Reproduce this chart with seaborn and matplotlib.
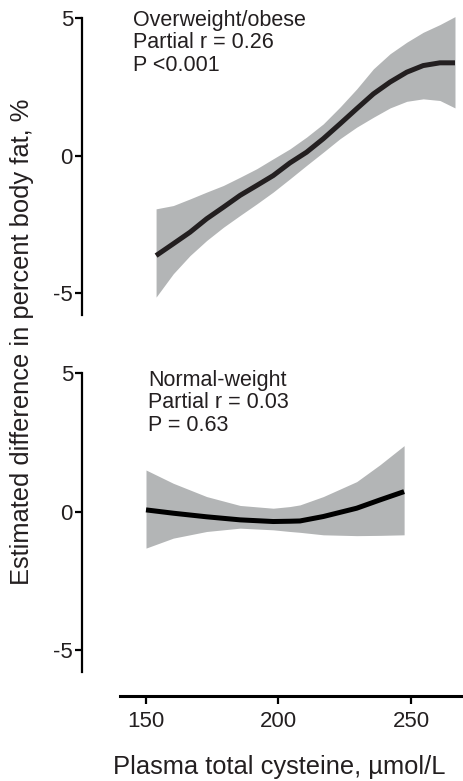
import numpy as np
import pandas as pd
import matplotlib
matplotlib.use("Agg")
import matplotlib.pyplot as plt
import seaborn as sns

# ---- data ----
# Overweight/obese: estimate and confidence band
ow_x  = [153.8, 160.3, 166.6, 172.9, 179.2, 185.5, 191.8, 198.0, 204.3, 210.6,
         216.9, 223.2, 229.5, 235.8, 242.1, 248.4, 254.6, 260.9, 266.6]
ow_y  = [-3.64, -3.21, -2.79, -2.30, -1.88, -1.45, -1.09, -0.73, -0.27, 0.12,
         0.61, 1.15, 1.70, 2.24, 2.67, 3.03, 3.27, 3.37, 3.37]
ow_lo = [-5.15, -4.30, -3.64, -3.09, -2.61, -2.18, -1.76, -1.33, -0.85, -0.36,
         0.12, 0.61, 1.03, 1.39, 1.73, 1.97, 2.06, 2.00, 1.73]
ow_hi = [-1.94, -1.82, -1.58, -1.33, -1.09, -0.79, -0.48, -0.12, 0.24, 0.67,
         1.15, 1.76, 2.42, 3.15, 3.70, 4.12, 4.48, 4.76, 5.05]

# Normal-weight: estimate and confidence band
nw_x  = [150.0, 160.3, 172.9, 185.5, 198.0, 204.3, 208.1, 216.9, 229.5, 238.3, 247.4]
nw_y  = [0.06, -0.06, -0.19, -0.30, -0.36, -0.35, -0.34, -0.18, 0.12, 0.42, 0.72]
nw_lo = [-1.32, -0.96, -0.72, -0.60, -0.66, -0.72, -0.75, -0.84, -0.87, -0.86, -0.84]
nw_hi = [1.50, 1.02, 0.54, 0.22, 0.12, 0.18, 0.24, 0.54, 1.08, 1.69, 2.38]

y_ticks = [-5, 0, 5]
y_ticklabels = ["-5", "0", "5"]
x_ticks = [150, 200, 250]
x_ticklabels = ["150", "200", "250"]

ow_text = "Overweight/obese\nPartial r = 0.26\nP <0.001"
nw_text = "Normal-weight\nPartial r = 0.03\nP = 0.63"
xlabel = "Plasma total cysteine, µmol/L"
ylabel = "Estimated difference in percent body fat, %"

sns.set_style("ticks")
plt.rcParams["font.family"] = ["Liberation Sans", "DejaVu Sans"]
plt.rcParams["axes.unicode_minus"] = False

W, H = 464, 781
fig = plt.figure(figsize=(W / 100, H / 100), dpi=100)

def frac_box(left_px, top_px, right_px, bottom_px):
    return [left_px / W, 1 - bottom_px / H, (right_px - left_px) / W, (bottom_px - top_px) / H]

XLIM = (150 - (146 - 82) / 2.65, 250 + (464 - 411) / 2.65)
YLIM = (-5.8, 5.5)

ax1 = fig.add_axes(frac_box(82, 4.25, 464, 315))
ax2 = fig.add_axes(frac_box(82, 359.2, 464, 672.2))

fill_col = "#b3b5b6"
text_col = "#231f20"
panels = [
    (ax1, ow_x, ow_y, ow_lo, ow_hi, "#231f20"),
    (ax2, nw_x, nw_y, nw_lo, nw_hi, "#000000"),
]
for ax, x, y, lo, hi, lc in panels:
    ax.fill_between(x, lo, hi, color=fill_col, linewidth=0, zorder=1)
    df = pd.DataFrame({"x": x, "y": y})
    sns.lineplot(data=df, x="x", y="y", ax=ax, color=lc, linewidth=3.6,
                 zorder=3, solid_capstyle="butt", solid_joinstyle="round")
    ax.set_xlim(*XLIM)
    ax.set_ylim(*YLIM)
    ax.set_xlabel("")
    ax.set_ylabel("")
    ax.set_yticks(y_ticks)
    ax.set_yticklabels(y_ticklabels)
    for s in ["top", "right"]:
        ax.spines[s].set_visible(False)
    ax.spines["left"].set_bounds(-5.8, 5)
    ax.spines["left"].set_linewidth(1.6)
    ax.spines["left"].set_color("black")
    ax.tick_params(axis="y", direction="out", length=5, width=1.6,
                   labelsize=16, pad=1.5, colors="black", labelcolor=text_col)
    ax.patch.set_alpha(0)

ax1.spines["bottom"].set_visible(False)
ax1.set_xticks([])

ax2.set_xticks(x_ticks)
ax2.set_xticklabels(x_ticklabels)
ax2.spines["bottom"].set_bounds(140, 270)
ax2.spines["bottom"].set_position(("outward", 17))
ax2.spines["bottom"].set_linewidth(2.2)
ax2.spines["bottom"].set_color("black")
ax2.tick_params(axis="x", direction="out", length=6, width=1.6,
                labelsize=16, pad=5, colors="black", labelcolor=text_col)

fig.text(133 / W, 1 - 10 / H, ow_text, ha="left", va="top",
         fontsize=15.5, color=text_col, linespacing=1.08)
fig.text(148 / W, 1 - 370 / H, nw_text, ha="left", va="top",
         fontsize=15.5, color=text_col, linespacing=1.08)

fig.text(279 / W, 1 - 767 / H, xlabel, ha="center", va="center",
         fontsize=18.4, color=text_col)
fig.text(22 / W, 1 - 342 / H, ylabel, ha="center", va="center",
         rotation=90, fontsize=18.4, color=text_col)

fig.savefig("out.png", dpi=100)
